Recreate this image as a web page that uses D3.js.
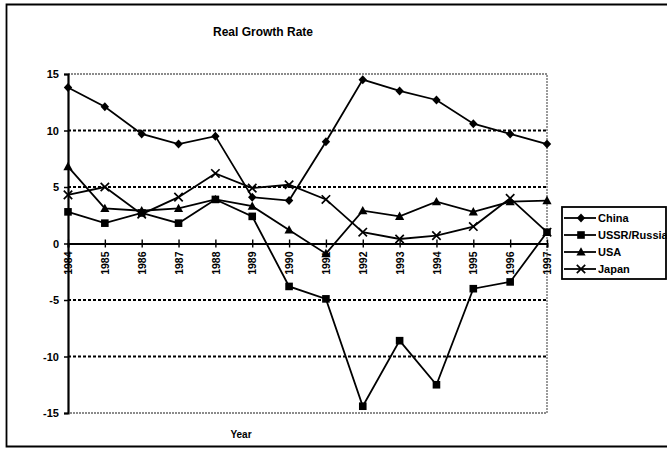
<!DOCTYPE html>
<html>
<head>
<meta charset="utf-8">
<script src="https://cdn.jsdelivr.net/npm/d3@7"></script>
<style>
  body { margin: 0; background: #fff; }
  svg text { font-family: Arial, "Liberation Sans", sans-serif; font-weight: bold; fill: #000; }
</style>
</head>
<body>
<svg id="chart" width="667" height="458"></svg>
<script>
// Data
const years = [1984, 1985, 1986, 1987, 1988, 1989, 1990, 1991, 1992, 1993, 1994, 1995, 1996, 1997];
const china = [13.8, 12.1, 9.7, 8.8, 9.5, 4.1, 3.8, 9.0, 14.5, 13.5, 12.7, 10.6, 9.7, 8.8];
const ussr  = [2.8, 1.8, 2.7, 1.8, 3.9, 2.4, -3.8, -4.9, -14.4, -8.6, -12.5, -4.0, -3.4, 1.0];
const usa   = [6.8, 3.1, 2.9, 3.1, 3.9, 3.3, 1.2, -0.9, 2.9, 2.4, 3.7, 2.8, 3.7, 3.8];
const japan = [4.3, 5.0, 2.6, 4.1, 6.2, 4.9, 5.2, 3.9, 1.0, 0.4, 0.7, 1.5, 4.0, 1.0];
const seriesNames = ["China", "USSR/Russia", "USA", "Japan"];
const markerTypes = ["diamond", "square", "triangle", "cross"];
const yTicks = [-15, -10, -5, 0, 5, 10, 15];

const svg = d3.select("#chart");

// outer chart frame (right edge runs off the page)
svg.append("path")
  .attr("d", "M 670 4.5 L 6.5 4.5 L 6.5 446.5 L 670 446.5")
  .attr("fill", "none")
  .attr("stroke", "#000")
  .attr("stroke-width", 1.8);

const plotLeft = 68, plotRight = 547, plotTop = 74, plotBottom = 413;

const x = d3.scaleLinear().domain([years[0], years[years.length - 1]]).range([plotLeft, plotRight]);
const y = d3.scaleLinear().domain([-15, 15]).range([plotBottom, plotTop]);

// title
svg.append("text")
  .attr("x", 263).attr("y", 36)
  .attr("text-anchor", "middle")
  .style("font-size", "12px")
  .text("Real Growth Rate");

// plot area border (grey dotted, top/right/bottom)
svg.append("path")
  .attr("d", `M ${plotLeft} ${plotTop} H ${plotRight} V ${plotBottom} H ${plotLeft}`)
  .attr("fill", "none")
  .attr("stroke", "#666")
  .attr("stroke-width", 1.3)
  .attr("stroke-dasharray", "2,1");

// dotted grid lines
svg.append("g")
  .selectAll("line")
  .data(yTicks.filter(d => d !== 0 && Math.abs(d) !== 15))
  .enter()
  .append("line")
  .attr("x1", plotLeft).attr("x2", plotRight)
  .attr("y1", d => y(d)).attr("y2", d => y(d))
  .attr("stroke", "#000")
  .attr("stroke-width", 1.8)
  .attr("stroke-dasharray", "3,2");

// y axis
const yAxis = svg.append("g")
  .attr("transform", `translate(${plotLeft},0)`)
  .call(d3.axisLeft(y).tickValues(yTicks).tickFormat(d => String(d)).tickSize(4).tickPadding(5));
yAxis.select(".domain").attr("stroke-width", 2.2);
yAxis.selectAll(".tick line").attr("stroke-width", 1.5);
yAxis.selectAll("text").style("font-size", "11px");

// x axis sits on zero, ticks cross the line, labels rotated
const xAxis = svg.append("g")
  .attr("transform", `translate(0,${y(0)})`)
  .call(d3.axisBottom(x).tickValues(years).tickFormat(d => String(d)).tickSizeOuter(0).tickSize(4));
xAxis.select(".domain").attr("stroke-width", 2);
xAxis.selectAll(".tick line").attr("y1", -4).attr("stroke-width", 1.4);
xAxis.selectAll("text")
  .style("font-size", "10.5px")
  .attr("text-anchor", "end")
  .attr("transform", "rotate(-90)")
  .attr("x", -8)
  .attr("y", 0)
  .attr("dy", "0.35em");

// x axis title
svg.append("text")
  .attr("x", 241).attr("y", 438)
  .attr("text-anchor", "middle")
  .style("font-size", "10px")
  .text("Year");

// markers
function drawMarker(g, type, cx, cy) {
  if (type === "diamond") {
    g.append("path")
      .attr("d", `M ${cx} ${cy - 4.5} L ${cx + 4.2} ${cy} L ${cx} ${cy + 4.5} L ${cx - 4.2} ${cy} Z`)
      .attr("fill", "#000");
  } else if (type === "square") {
    g.append("rect")
      .attr("x", cx - 3.8).attr("y", cy - 3.8)
      .attr("width", 7.6).attr("height", 7.6)
      .attr("fill", "#000");
  } else if (type === "triangle") {
    g.append("path")
      .attr("d", `M ${cx} ${cy - 4.8} L ${cx + 4.6} ${cy + 3.6} L ${cx - 4.6} ${cy + 3.6} Z`)
      .attr("fill", "#000");
  } else {
    g.append("path")
      .attr("d", `M ${cx - 4.2} ${cy - 4.2} L ${cx + 4.2} ${cy + 4.2} M ${cx + 4.2} ${cy - 4.2} L ${cx - 4.2} ${cy + 4.2}`)
      .attr("stroke", "#000")
      .attr("stroke-width", 1.7);
  }
}

const allSeries = [china, ussr, usa, japan];
const line = d3.line().x((d, i) => x(years[i])).y(d => y(d));

allSeries.forEach((vals, s) => {
  const g = svg.append("g");
  g.append("path")
    .attr("d", line(vals))
    .attr("fill", "none")
    .attr("stroke", "#000")
    .attr("stroke-width", 1.8);
  vals.forEach((v, i) => drawMarker(g, markerTypes[s], x(years[i]), y(v)));
});

// legend
const legend = svg.append("g");
legend.append("rect")
  .attr("x", 562).attr("y", 207)
  .attr("width", 104).attr("height", 72)
  .attr("fill", "#fff")
  .attr("stroke", "#000")
  .attr("stroke-width", 1.8);

seriesNames.forEach((name, i) => {
  const ly = 218 + i * 17;
  legend.append("line")
    .attr("x1", 564).attr("x2", 596)
    .attr("y1", ly).attr("y2", ly)
    .attr("stroke", "#000")
    .attr("stroke-width", 1.8);
  drawMarker(legend, markerTypes[i], 581, ly);
  legend.append("text")
    .attr("x", 598).attr("y", ly)
    .attr("dy", "0.35em")
    .style("font-size", "11px")
    .text(name);
});
</script>
</body>
</html>
